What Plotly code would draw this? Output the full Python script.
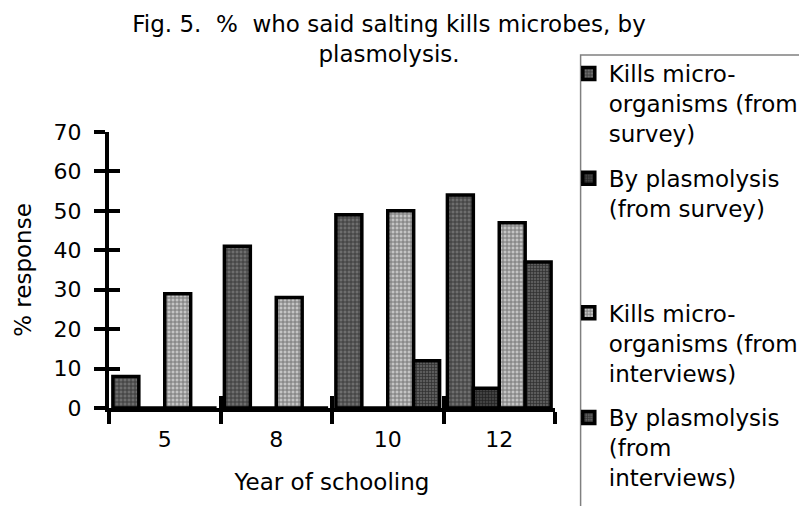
import plotly.graph_objects as go

years = ["5", "8", "10", "12"]
kills_survey = [8, 41, 49, 54]
plasmolysis_survey = [0, 0, 0, 5]
kills_interviews = [29, 28, 50, 47]
plasmolysis_interviews = [0, 0, 12, 37]

series_names = [
    "Kills micro-<br>organisms (from<br>survey)",
    "By plasmolysis<br>(from survey)<br>\u00a0<br>\u00a0",
    "Kills micro-<br>organisms (from<br>interviews)",
    "By plasmolysis<br>(from<br>interviews)",
]
series_values = [kills_survey, plasmolysis_survey, kills_interviews, plasmolysis_interviews]
bg_colors = ["#6e6e6e", "#424242", "#c4c4c4", "#5c5c5c"]
fg_colors = ["#000000", "#000000", "#1a1a1a", "#000000"]
pat_sizes = [4, 3, 4, 3]

FONT = "DejaVu Sans"

fig = go.Figure()
for i, (name, vals) in enumerate(zip(series_names, series_values)):
    fig.add_trace(go.Bar(
        x=years, y=vals, name=name, legendgroup=f"g{i}",
        marker=dict(
            color=bg_colors[i],
            line=dict(color="black", width=3.5),
            pattern=dict(shape="+", fgcolor=fg_colors[i], bgcolor=bg_colors[i],
                         size=pat_sizes[i], solidity=0.4, fillmode="overlay"),
        ),
    ))

# invisible helper trace so the overlay axes (inner halves of the crossing ticks) are drawn
fig.add_trace(go.Scatter(x=[None], y=[None], xaxis="x2", yaxis="y2",
                         showlegend=False, hoverinfo="skip", mode="markers"))

L, R, T, B = 99, 255, 124, 106
W, H = 807, 506
pw, ph = W - L - R, H - T - B

def px_x(px):
    return (px - L) / pw

def px_y(py):
    return (H - B - py) / ph

fig.update_layout(
    width=W, height=H,
    margin=dict(l=L, r=R, t=T, b=B, pad=0),
    paper_bgcolor="white", plot_bgcolor="white",
    font=dict(family=FONT, size=23, color="black"),
    barmode="group", bargap=0.07, bargroupgap=0,
    title=dict(
        text="Fig. 5.\u00a0 %\u00a0 who said salting kills microbes, by<br>plasmolysis.",
        x=381 / W, xanchor="center", xref="container",
        y=1 - 24 / H, yanchor="top", yref="container",
        font=dict(family=FONT, size=23, color="black"),
    ),
    showlegend=True,
    legend=dict(
        x=px_x(566), xanchor="left", y=px_y(44), yanchor="top",
        font=dict(family=FONT, size=23, color="black"),
        bgcolor="rgba(0,0,0,0)", borderwidth=0, maxheight=1000,
        tracegroupgap=12, valign="top", traceorder="grouped",
    ),
    xaxis=dict(
        type="category", categoryorder="array", categoryarray=years,
        range=[-0.5, 3.5], showline=True, linewidth=4, linecolor="black",
        ticks="outside", tickson="boundaries", ticklen=12, tickwidth=4, tickcolor="black",
        ticklabelstandoff=9, showgrid=False, zeroline=False,
        tickfont=dict(family=FONT, size=22),
        title=dict(text="Year of schooling", font=dict(family=FONT, size=23), standoff=23),
    ),
    xaxis2=dict(
        overlaying="x", anchor="y", side="bottom", range=[-0.5, 3.5],
        tickvals=[-0.5, 0.5, 1.5, 2.5, 3.5], ticks="inside", ticklen=12, tickwidth=4,
        tickcolor="black", showticklabels=False, showline=False, showgrid=False, zeroline=False,
    ),
    yaxis=dict(
        range=[0, 70], dtick=10, showline=True, linewidth=4, linecolor="black",
        ticks="outside", ticklen=11, tickwidth=4, tickcolor="black",
        ticklabelstandoff=8, showgrid=False, zeroline=False,
        tickfont=dict(family=FONT, size=22),
        title=dict(text="% response", font=dict(family=FONT, size=23), standoff=17),
    ),
    yaxis2=dict(
        overlaying="y", anchor="x", side="left", range=[0, 70], dtick=10,
        ticks="inside", ticklen=11, tickwidth=4, tickcolor="black",
        showticklabels=False, showline=False, showgrid=False, zeroline=False,
    ),
    shapes=[dict(
        type="rect", xref="paper", yref="paper",
        x0=px_x(578), x1=px_x(830), y0=px_y(47), y1=px_y(530),
        line=dict(color="#808080", width=1.5), fillcolor="rgba(0,0,0,0)", layer="above",
    )],
)

fig.write_html("out.html")
